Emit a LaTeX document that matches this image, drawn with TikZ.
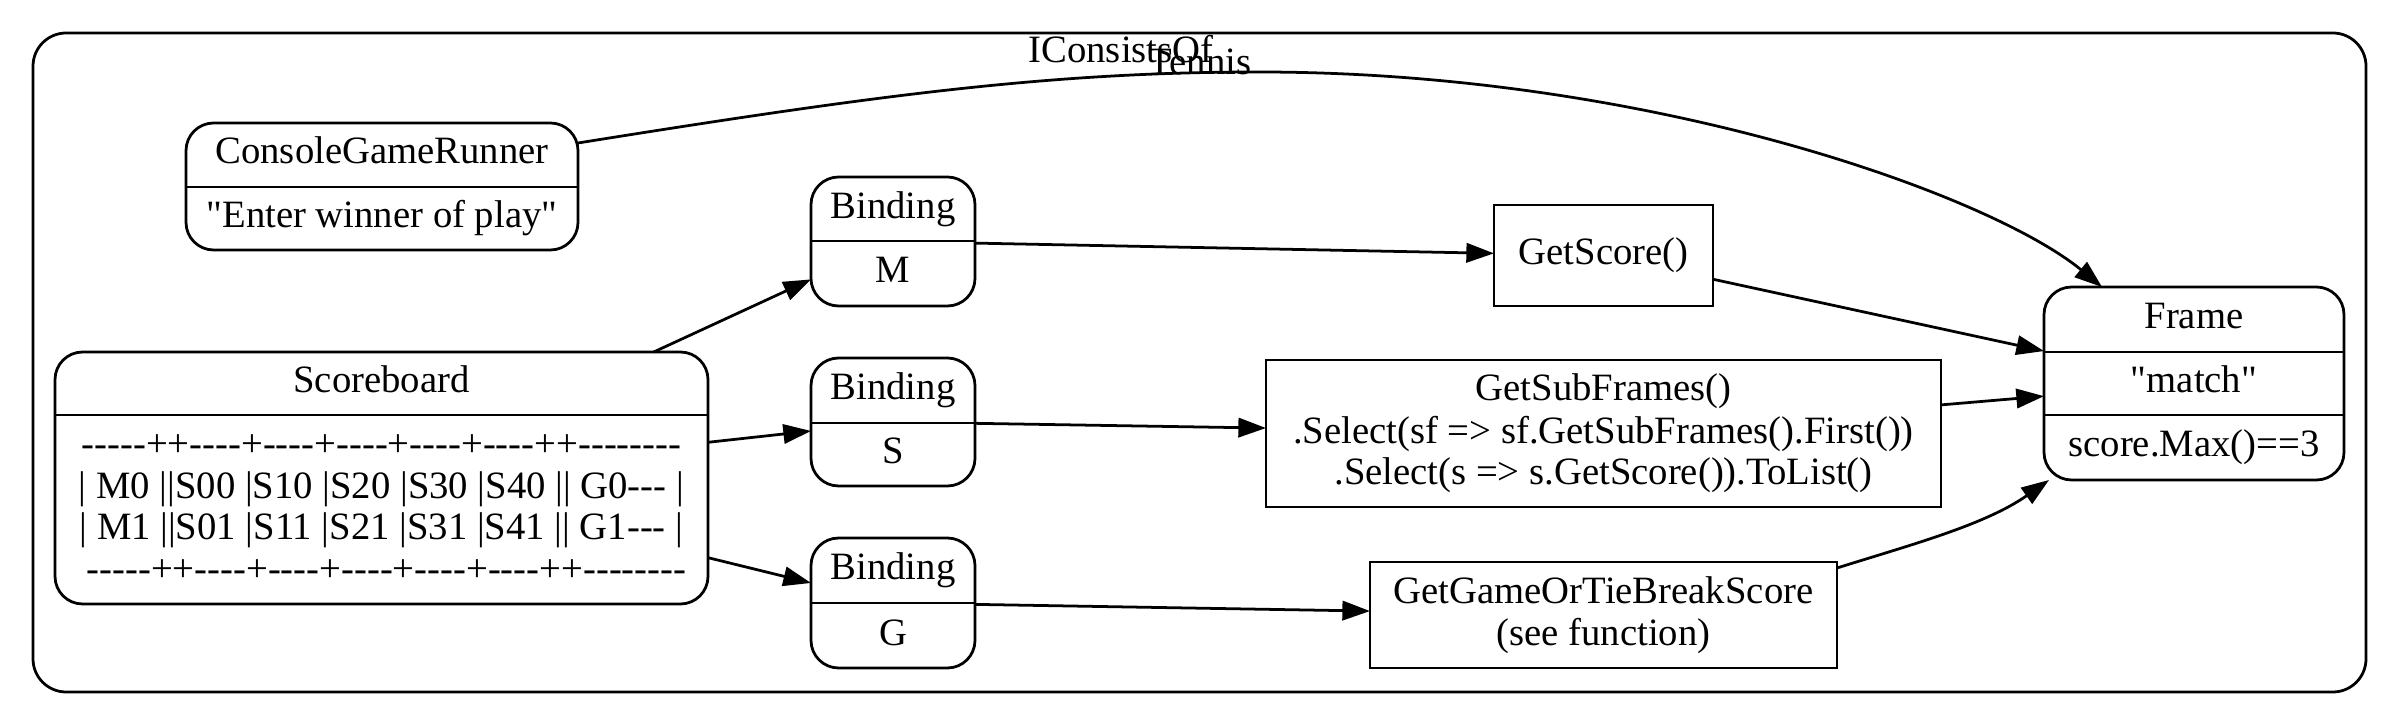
\documentclass[tikz,border=0pt]{standalone}
\usepackage{fontspec}
\setmainfont{Liberation Serif}[Ligatures=TeXOff]
\usetikzlibrary{arrows.meta,calc}
\tikzset{
  every node/.style={font=\fontsize{14}{16}\selectfont},
  rbox/.style={draw, line width=1pt, rounded corners=10pt, inner sep=0pt, outer sep=0pt},
  sbox/.style={draw, line width=1pt, inner sep=0pt, outer sep=0pt},
  sz/.style 2 args={minimum width=#1*0.3619pt, minimum height=#2*0.3619pt},
  txt/.style={anchor=base, inner sep=0pt},
  arr/.style={line width=1pt, -{Triangle[length=10pt, width=7pt]}},
  divl/.style={line width=1pt},
}
\begin{document}
\begin{tikzpicture}[x=0.3619pt, y=-0.3619pt]
\useasboundingbox (0,0) rectangle (2400,725);
% cluster
\node[rbox, rounded corners=12pt, sz={2333}{659}] (cl) at (1199.5,362.5) {};
\node[txt] (tennis) at (1200,75) {Tennis};

% ConsoleGameRunner
\node[rbox, sz={392}{127}] (cgr) at (382,186.5) {};
\draw[divl] (cgr.west |- 0,187) -- (cgr.east |- 0,187);
\node[txt] (cgr1) at (382,164) {ConsoleGameRunner};
\node[txt] (cgr2) at (382,228) {"Enter winner of play"};

% Scoreboard
\node[rbox, sz={653}{252}] (sb) at (381.5,478) {};
\draw[divl] (sb.west |- 0,415) -- (sb.east |- 0,415);
\node[txt] (sb0) at (381.5,393) {Scoreboard};
\node[txt] (sb1) at (381.5,456) {-----++----+----+----+----+----++--------};
\node[txt] (sb2) at (381.5,498) {| M0 ||S00 |S10 |S20 |S30 |S40 || G0--- |};
\node[txt] (sb3) at (381.5,540) {| M1 ||S01 |S11 |S21 |S31 |S41 || G1--- |};
\node[txt] (sb4) at (386.5,582) {-----++----+----+----+----+----++--------};

% Bindings
\node[rbox, sz={164}{129}] (bm) at (893,241.5) {};
\draw[divl] (bm.west |- 0,241) -- (bm.east |- 0,241);
\node[txt] (bm1) at (893,218.5) {Binding};
\node[txt] (bm2) at (893,283) {M};

\node[rbox, sz={164}{128}] (bs) at (893,422) {};
\draw[divl] (bs.west |- 0,423) -- (bs.east |- 0,423);
\node[txt] (bs1) at (893,400) {Binding};
\node[txt] (bs2) at (893,464) {S};

\node[rbox, sz={164}{130}] (bg) at (893,603) {};
\draw[divl] (bg.west |- 0,603) -- (bg.east |- 0,603);
\node[txt] (bg1) at (893,580) {Binding};
\node[txt] (bg2) at (893,645) {G};

% function boxes
\node[sbox, sz={219}{101}] (gs) at (1603.5,255.5) {};
\node[txt] (gs1) at (1603.5,265) {GetScore()};

\node[sbox, sz={675}{147}] (gsf) at (1603.5,433.5) {};
\node[txt] (gsf1) at (1603.5,401) {GetSubFrames()};
\node[txt] (gsf2) at (1603.5,443) {.Select(sf => sf.GetSubFrames().First())};
\node[txt] (gsf3) at (1603.5,485) {.Select(s => s.GetScore()).ToList()};

\node[sbox, sz={467}{106}] (gg) at (1603.5,615) {};
\node[txt] (gg1) at (1603.5,603.5) {GetGameOrTieBreakScore};
\node[txt] (gg2) at (1603.5,645.5) {(see function)};

% Frame
\node[rbox, sz={300}{193}] (fr) at (2194,383.5) {};
\draw[divl] (fr.west |- 0,352) -- (fr.east |- 0,352);
\draw[divl] (fr.west |- 0,415) -- (fr.east |- 0,415);
\node[txt] (fr1) at (2194,329) {Frame};
\node[txt] (fr2) at (2194,393) {"match"};
\node[txt] (fr3) at (2194,457) {score.Max()==3};

% edges
\draw[arr] (sb) -- (bm);
\draw[arr] (sb) -- (bs);
\draw[arr] (sb) -- (bg);
\draw[arr] (bm) -- (gs);
\draw[arr] (bs) -- (gsf);
\draw[arr] (bg) -- (gg);
\draw[arr] (gs) -- (fr);
\draw[arr] (gsf) -- (fr);
\draw[arr] ($(gg.north east)+(0,6)$) .. controls (1910,545) and (1985,525) .. ($(fr.south west)+(5,0)$);
\draw[arr] ($(cgr.east)+(0,-43.5)$) .. controls (878,95) and (1050,72) .. (1259,72)
   .. controls (1650,72) and (1990,195) .. ($(fr.north west)+(58,0)$);
\node[txt] (lbl) at (1121,63) {IConsistsOf};
\end{tikzpicture}
\end{document}
